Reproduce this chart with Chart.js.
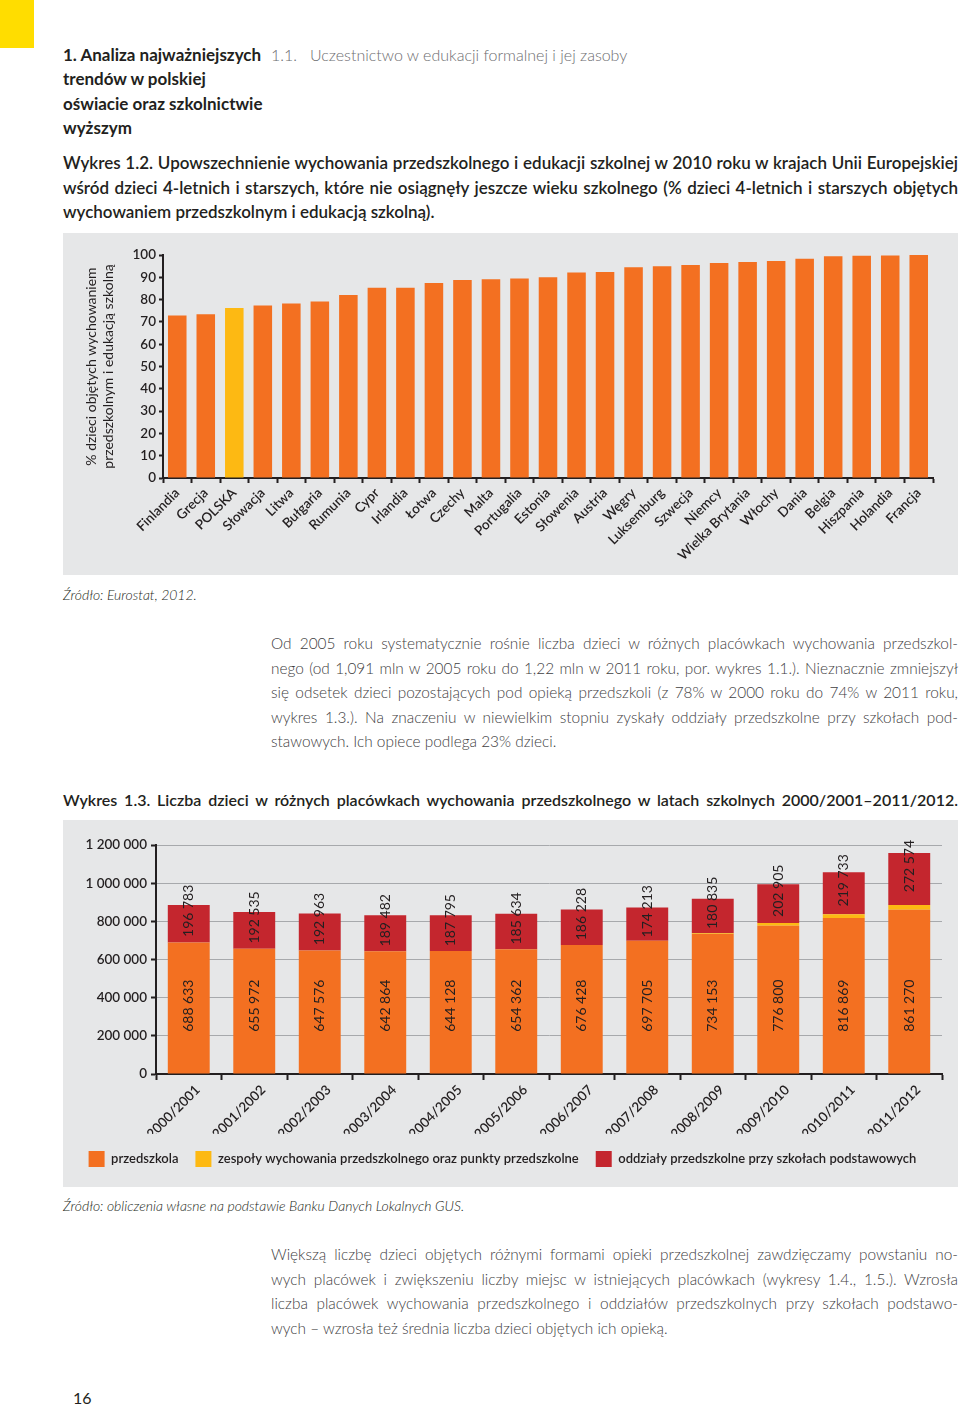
<!DOCTYPE html>
<html lang="pl">
<head>
<meta charset="utf-8">
<script src="https://cdn.jsdelivr.net/npm/chart.js@4.4.1/dist/chart.umd.min.js"></script>
<style>
  body { margin: 0; width: 960px; height: 1406px; position: relative; background: #fff; font-family: Lato, 'Open Sans', sans-serif; color: #231f20; overflow: hidden; }
  .abs { position: absolute; white-space: nowrap; }
  .lines div { white-space: nowrap; }
  .jl { text-align: justify; text-align-last: justify; }
  .light { font-weight: 300; color: #414042; }
  .semi { font-weight: 600; }
  .panel { position: absolute; background: #e6e7e8; }
</style>
</head>
<body>
<div class="abs" style="left:0;top:0;width:34px;height:48px;background:#ffdd00"></div>

<div class="abs lines" style="left:63px;top:43px;font-size:17px;line-height:24.4px;font-weight:700">
  <div>1. Analiza najważniejszych</div>
  <div>trendów w polskiej</div>
  <div>oświacie oraz szkolnictwie</div>
  <div>wyższym</div>
</div>
<div class="abs light" style="left:271px;top:43px;font-size:16px;line-height:24.4px;color:#6d6e71">1.1.</div>
<div class="abs light" style="left:310px;top:43px;font-size:16px;line-height:24.4px;color:#6d6e71">Uczestnictwo w edukacji formalnej i jej zasoby</div>

<div class="abs lines semi" style="left:63px;top:151px;width:895px;font-size:17px;line-height:24.5px">
  <div class="jl">Wykres 1.2. Upowszechnienie wychowania przedszkolnego i edukacji szkolnej w 2010 roku w krajach Unii Europejskiej</div>
  <div class="jl">wśród dzieci 4-letnich i starszych, które nie osiągnęły jeszcze wieku szkolnego (% dzieci 4-letnich i starszych objętych</div>
  <div>wychowaniem przedszkolnym i edukacją szkolną).</div>
</div>

<div class="panel" style="left:63px;top:233px;width:895px;height:342px"><canvas id="c1"></canvas></div>

<div class="abs light" style="left:63px;top:586px;font-size:14px;line-height:18px;font-style:italic;color:#231f20">Źródło: Eurostat, 2012.</div>

<div class="abs lines light" style="left:271px;top:631px;width:687px;font-size:15.4px;line-height:24.5px">
  <div class="jl">Od 2005 roku systematycznie rośnie liczba dzieci w różnych placówkach wychowania przedszkol-</div>
  <div class="jl">nego (od 1,091 mln w 2005 roku do 1,22 mln w 2011 roku, por. wykres 1.1.). Nieznacznie zmniejszył</div>
  <div class="jl">się odsetek dzieci pozostających pod opieką przedszkoli (z 78% w 2000 roku do 74% w 2011 roku,</div>
  <div class="jl">wykres 1.3.). Na znaczeniu w niewielkim stopniu zyskały oddziały przedszkolne przy szkołach pod-</div>
  <div>stawowych. Ich opiece podlega 23% dzieci.</div>
</div>

<div class="abs semi jl" style="left:63px;top:788px;width:895px;font-size:16px;line-height:24px">Wykres 1.3. Liczba dzieci w różnych placówkach wychowania przedszkolnego w latach szkolnych 2000/2001–2011/2012.</div>

<div class="panel" style="left:63px;top:820px;width:895px;height:367px"><canvas id="c2"></canvas></div>

<div class="abs light" style="left:63px;top:1197px;font-size:14px;line-height:18px;font-style:italic;color:#231f20">Źródło: obliczenia własne na podstawie Banku Danych Lokalnych GUS.</div>

<div class="abs lines light" style="left:271px;top:1242px;width:687px;font-size:15.4px;line-height:24.5px">
  <div class="jl">Większą liczbę dzieci objętych różnymi formami opieki przedszkolnej zawdzięczamy powstaniu no-</div>
  <div class="jl">wych placówek i zwiększeniu liczby miejsc w istniejących placówkach (wykresy 1.4., 1.5.). Wzrosła</div>
  <div class="jl">liczba placówek wychowania przedszkolnego i oddziałów przedszkolnych przy szkołach podstawo-</div>
  <div>wych – wzrosła też średnia liczba dzieci objętych ich opieką.</div>
</div>

<div class="abs" style="left:73px;top:1388px;font-size:16px;line-height:20px;color:#231f20">16</div>

<script>
// Wykres 1.2 – EU countries, % of children 4+ in preschool/school
const countries = ['Finlandia', 'Grecja', 'POLSKA', 'Słowacja', 'Litwa', 'Bułgaria', 'Rumunia', 'Cypr', 'Irlandia',
  'Łotwa', 'Czechy', 'Malta', 'Portugalia', 'Estonia', 'Słowenia', 'Austria', 'Węgry', 'Luksemburg', 'Szwecja',
  'Niemcy', 'Wielka Brytania', 'Włochy', 'Dania', 'Belgia', 'Hiszpania', 'Holandia', 'Francja'];
const coverage = [72.9, 73.4, 76.2, 77.4, 78.3, 79.2, 82.1, 85.3, 85.3,
  87.4, 88.8, 89.1, 89.5, 90.0, 92.2, 92.4, 94.5, 94.9, 95.5,
  96.4, 96.9, 97.3, 98.3, 99.4, 99.7, 99.8, 100];
const highlighted = 'POLSKA';
const coverageTicks = [0, 10, 20, 30, 40, 50, 60, 70, 80, 90, 100];

// Wykres 1.3 – children in preschool institutions
const years = ['2000/2001', '2001/2002', '2002/2003', '2003/2004', '2004/2005', '2005/2006',
  '2006/2007', '2007/2008', '2008/2009', '2009/2010', '2010/2011', '2011/2012'];
const przedszkola = [688633, 655972, 647576, 642864, 644128, 654362, 676428, 697705, 734153, 776800, 816869, 861270];
const zespoly = [0, 0, 0, 0, 0, 0, 0, 0, 4000, 14000, 20000, 24000];
const oddzialy = [196783, 192535, 192963, 189482, 187795, 185634, 186228, 174213, 180835, 202905, 219733, 272574];
const countTicks = [0, 200000, 400000, 600000, 800000, 1000000, 1200000];

const ORANGE = '#f37021', YELLOW = '#fdb913', RED = '#c4262e', INK = '#231f20';

Chart.defaults.font.family = 'Lato, "Open Sans", sans-serif';
Chart.defaults.color = INK;
Chart.defaults.animation = false;

const spaced = n => String(n).replace(/\B(?=(\d{3})+(?!\d))/g, ' ');

new Chart(document.getElementById('c1'), {
  type: 'bar',
  data: {
    labels: countries,
    datasets: [{
      data: coverage,
      backgroundColor: countries.map(c => c === highlighted ? YELLOW : ORANGE),
      categoryPercentage: 1, barPercentage: 0.65, borderWidth: 0,
    }]
  },
  options: {
    responsive: true, maintainAspectRatio: false,
    layout: { padding: { top: 22, right: 25, left: 0, bottom: 0 } },
    plugins: { legend: { display: false }, tooltip: { enabled: false } },
    scales: {
      x: {
        afterFit: s => { s.height = 97; },
        grid: { drawOnChartArea: false, tickLength: 5, tickColor: INK, tickWidth: 2 },
        border: { color: INK, width: 2 },
        ticks: { minRotation: 45, maxRotation: 45, autoSkip: false, padding: 2, font: { size: 13.5, weight: 600 }, color: INK },
      },
      y: {
        min: 0, max: 100,
        afterFit: s => { s.width = 100; },
        afterBuildTicks: s => { s.ticks = coverageTicks.map(v => ({ value: v })); },
        grid: { drawOnChartArea: false, tickLength: 4, tickColor: INK, tickWidth: 2 },
        border: { color: INK, width: 2 },
        ticks: { padding: 3, font: { size: 13.5, weight: 600 }, color: INK },
        title: {
          display: true,
          text: ['% dzieci objętych wychowaniem', 'przedszkolnym i edukacją szkolną'],
          font: { size: 14, lineHeight: 1.2 }, color: INK,
          padding: { top: 20, bottom: 0 },
        },
      }
    }
  }
});

const segmentLabels = {
  id: 'segmentLabels',
  afterDatasetsDraw(chart) {
    const { ctx, scales: { y } } = chart;
    const bottom = chart.getDatasetMeta(0).data;
    const top = chart.getDatasetMeta(2).data;
    const rowY = y.getPixelForValue(358000);
    const put = (text, x, yy) => {
      ctx.save();
      ctx.translate(x, yy);
      ctx.rotate(-Math.PI / 2);
      ctx.fillText(text, 0, 0);
      ctx.restore();
    };
    ctx.save();
    ctx.font = '14px Lato, "Open Sans", sans-serif';
    ctx.fillStyle = INK;
    ctx.textAlign = 'center';
    ctx.textBaseline = 'middle';
    bottom.forEach((bar, i) => {
      put(spaced(przedszkola[i]), bar.x, rowY);
      const r = top[i];
      put(spaced(oddzialy[i]), r.x, (r.y + r.base) / 2 - 13);
    });
    ctx.restore();
  }
};

new Chart(document.getElementById('c2'), {
  type: 'bar',
  data: {
    labels: years,
    datasets: [
      { label: 'przedszkola', data: przedszkola, backgroundColor: ORANGE },
      { label: 'zespoły wychowania przedszkolnego oraz punkty przedszkolne', data: zespoly, backgroundColor: YELLOW },
      { label: 'oddziały przedszkolne przy szkołach podstawowych', data: oddzialy, backgroundColor: RED },
    ].map(d => ({ ...d, categoryPercentage: 1, barPercentage: 0.64, borderWidth: 0 }))
  },
  options: {
    responsive: true, maintainAspectRatio: false,
    layout: { padding: { top: 25, right: 16, left: 0, bottom: 10 } },
    plugins: {
      tooltip: { enabled: false },
      legend: {
        position: 'bottom',
        labels: { boxWidth: 16, boxHeight: 16, padding: 17, color: INK, font: { size: 13, weight: 600 } }
      }
    },
    scales: {
      x: {
        stacked: true,
        afterFit: s => { s.height = 60; },
        grid: { drawOnChartArea: false, tickLength: 6, tickColor: INK, tickWidth: 2 },
        border: { color: INK, width: 2 },
        ticks: { minRotation: 45, maxRotation: 45, autoSkip: false, padding: 2, labelOffset: 9, font: { size: 13.5, weight: 600 }, color: INK },
      },
      y: {
        stacked: true, min: 0, max: 1200000,
        afterFit: s => { s.width = 93; },
        afterBuildTicks: s => { s.ticks = countTicks.map(v => ({ value: v })); },
        grid: { color: '#a7a9ac', lineWidth: 1, tickLength: 5, tickColor: INK, tickWidth: 2 },
        border: { color: INK, width: 2 },
        ticks: { padding: 4, font: { size: 13.5, weight: 600 }, color: INK, callback: v => spaced(v) },
      }
    }
  },
  plugins: [segmentLabels]
});
</script>
</body>
</html>
